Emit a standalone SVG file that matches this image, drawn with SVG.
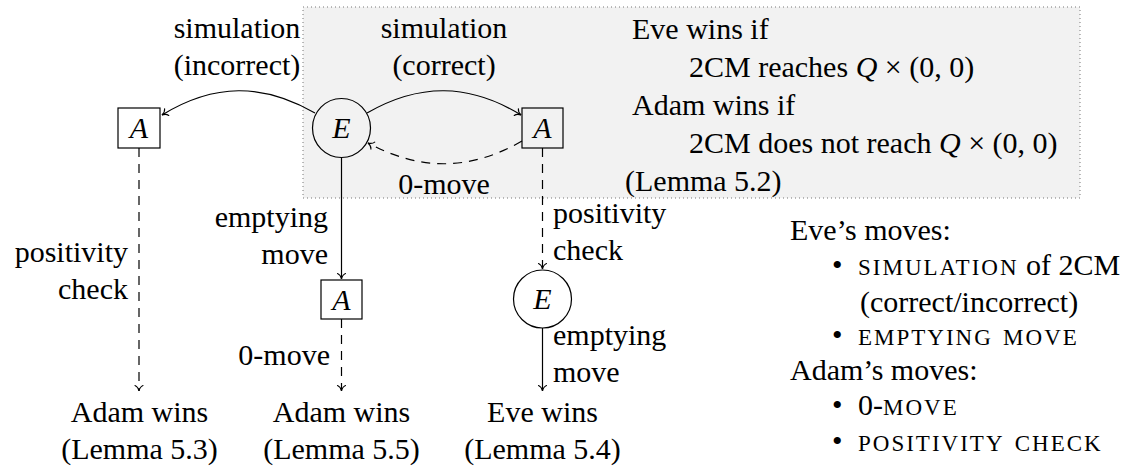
<svg xmlns="http://www.w3.org/2000/svg" width="1142" height="468" viewBox="0 0 1142 468">
<style>
text{font-family:'Liberation Serif','Tinos','Nimbus Roman','FreeSerif','Noto Serif','Times New Roman',Times,'DejaVu Serif',serif;font-size:30px;fill:#000}
.m{font-style:italic}
.sc{font-variant:small-caps;font-size:33px;letter-spacing:2px}
.mid{text-anchor:middle}
.end{text-anchor:end}
.shape{fill:none;stroke:#000;stroke-width:1.2}
.e{fill:none;stroke:#000;stroke-width:1.2}
.d{stroke-dasharray:9 7}
</style>
<defs>
<marker id="to" viewBox="-7 -6 9 12" markerWidth="9" markerHeight="12" refX="0" refY="0" orient="auto" markerUnits="userSpaceOnUse">
<path d="M-5.5,-4 C-4.5,-1.6 -1.8,-0.4 0,0 C-1.8,0.4 -4.5,1.6 -5.5,4" fill="none" stroke="#000" stroke-width="1.1" stroke-linecap="round"/>
</marker>
</defs>
<rect id="panel" x="303" y="7" width="777" height="191" fill="#f2f2f2" stroke="#777" stroke-width="1" stroke-dasharray="1 3"/>
<g id="panel-text">
<text x="632" y="39">Eve wins if</text>
<text x="689" y="77">2CM reaches <tspan class="m">Q</tspan> × (0, 0)</text>
<text x="632" y="115">Adam wins if</text>
<text x="689" y="153">2CM does not reach <tspan class="m">Q</tspan> × (0, 0)</text>
<text x="625" y="191">(Lemma 5.2)</text>
</g>
<g id="connectors">
<path class="e" d="M315,113 C263,83 214,83 162,115" marker-end="url(#to)"/>
<path class="e" d="M367,113 C419,83 469,83 521,115" marker-end="url(#to)"/>
<path class="e d" d="M522,141 C470,171 420,171 368,143" marker-end="url(#to)"/>
<path class="e" d="M341.5,157.5 V279" marker-end="url(#to)"/>
<path class="e d" d="M139,148 V391" marker-end="url(#to)"/>
<path class="e d" d="M341.5,319 V391" marker-end="url(#to)"/>
<path class="e d" d="M542.5,148 V269" marker-end="url(#to)"/>
<path class="e" d="M542.5,328 V391" marker-end="url(#to)"/>
<text class="mid" x="237" y="38">simulation</text>
<text class="mid" x="237" y="75">(incorrect)</text>
<text class="mid" x="444" y="38">simulation</text>
<text class="mid" x="444" y="75">(correct)</text>
<text class="mid" x="444" y="194">0-move</text>
<text class="end" x="328" y="227">emptying</text>
<text class="end" x="328" y="264">move</text>
<text class="end" x="128" y="262">positivity</text>
<text class="end" x="128" y="299">check</text>
<text class="end" x="330" y="365">0-move</text>
<text x="553" y="223">positivity</text>
<text x="553" y="260">check</text>
<text x="553" y="345">emptying</text>
<text x="553" y="382">move</text>
</g>
<g id="E1"><ellipse class="shape" cx="341.5" cy="128" rx="29" ry="29.5"/><text class="mid m" x="341.5" y="138">E</text></g>
<g id="A1"><rect class="shape" x="118" y="108" width="42" height="40"/><text class="mid m" x="139" y="138">A</text></g>
<g id="A2"><rect class="shape" x="522" y="108" width="41" height="40"/><text class="mid m" x="542.5" y="138">A</text></g>
<g id="A3"><rect class="shape" x="321" y="280" width="41" height="39"/><text class="mid m" x="341.5" y="309.5">A</text></g>
<g id="E2"><ellipse class="shape" cx="542.5" cy="299" rx="29" ry="29"/><text class="mid m" x="542.5" y="309">E</text></g>
<g id="T1"><text class="mid" x="139.5" y="422">Adam wins</text><text class="mid" x="139.5" y="459">(Lemma 5.3)</text></g>
<g id="T2"><text class="mid" x="341.5" y="422">Adam wins</text><text class="mid" x="341.5" y="459">(Lemma 5.5)</text></g>
<g id="T3"><text class="mid" x="542.5" y="422">Eve wins</text><text class="mid" x="542.5" y="459">(Lemma 5.4)</text></g>
<g id="legend">
<text x="790" y="240">Eve’s moves:</text>
<text x="832" y="275">•</text><text x="858" y="275"><tspan class="sc">simulation</tspan> of 2CM</text>
<text x="860" y="312">(correct/incorrect)</text>
<text x="832" y="345">•</text><text x="858" y="345" class="sc">emptying move</text>
<text x="790" y="380">Adam’s moves:</text>
<text x="832" y="415">•</text><text x="858" y="415">0-<tspan class="sc">move</tspan></text>
<text x="832" y="451">•</text><text x="858" y="451" class="sc">positivity check</text>
</g>
</svg>
